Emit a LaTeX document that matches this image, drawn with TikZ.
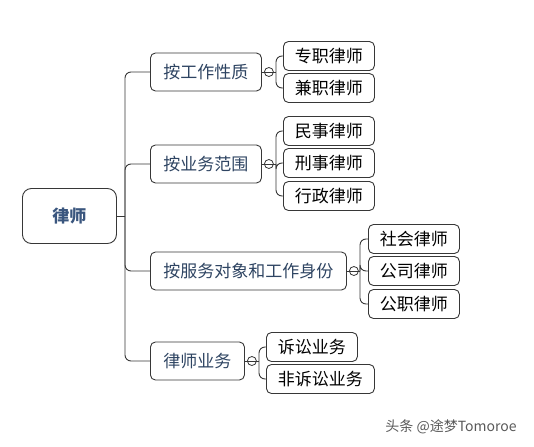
\documentclass[tikz,border=0pt]{standalone}
\usepackage{fontspec}
\newfontfamily\cjk{Noto Sans CJK SC}
\usepackage{xcolor}
\definecolor{branchblue}{RGB}{46,68,98}
\definecolor{rootblue}{RGB}{58,86,126}
\definecolor{linegray}{RGB}{55,55,55}
\usetikzlibrary{positioning}
\tikzset{%
    box/.style={draw=linegray, rounded corners=5pt, line width=0.9pt, fill=white,
        inner sep=0pt, anchor=west, font=\cjk\fontsize{17}{17}\selectfont},
    rootbox/.style={box, rounded corners=9pt, minimum width=94pt, minimum height=55pt,
        text=rootblue, font=\cjk\bfseries\fontsize{17}{17}\selectfont},
    branch/.style={box, minimum height=38pt, text=branchblue},
    leaf/.style={box, minimum height=29pt, minimum width=91pt, text=black},
    collapse/.style={draw=linegray, circle, minimum size=9pt, inner sep=0pt, line width=0.8pt},
    link/.style={draw=linegray, line width=0.9pt, rounded corners=6pt}
}

\begin{document}
\begin{tikzpicture}[x=1pt,y=-1pt]
\useasboundingbox (0,0) rectangle (534,446);
% hubs
\coordinate (trunk) at (125,216);
\coordinate (h1) at (276,72);
\coordinate (h2) at (276,164);
\coordinate (h3) at (360,271);
\coordinate (h4) at (259,361);
% nodes
\node[rootbox] (lawyer) at (22,216) {律师};
\node[branch, minimum width=111pt] (nature) at (150,72) {按工作性质};
\node[branch, minimum width=111pt] (scope) at (150,164) {按业务范围};
\node[branch, minimum width=196pt] (client) at (150,271) {按服务对象和工作身份};
\node[branch, minimum width=94pt] (work) at (150,361) {律师业务};
\node[leaf] (fulltime) at (283,56) {专职律师};
\node[leaf] (parttime) at (283,88) {兼职律师};
\node[leaf] (civil) at (283,131) {民事律师};
\node[leaf] (criminal) at (283,163) {刑事律师};
\node[leaf] (admin) at (283,196) {行政律师};
\node[leaf] (social) at (368,239) {社会律师};
\node[leaf] (company) at (368,271) {公司律师};
\node[leaf] (public) at (368,304) {公职律师};
\node[leaf] (litig) at (266,347) {诉讼业务};
\node[leaf, minimum width=108pt] (nonlitig) at (266,379) {非诉讼业务};
% trunk
\draw[link] (lawyer.east) -- (trunk);
\draw[link] (trunk) |- (nature.west);
\draw[link] (trunk) |- (scope.west);
\draw[link] (trunk) |- (client.west);
\draw[link] (trunk) |- (work.west);
% leaves
\draw[link] (nature.east) -- (h1);
\draw[link] (h1) |- (fulltime.west);
\draw[link] (h1) |- (parttime.west);
\draw[link] (scope.east) -- (h2);
\draw[link] (h2) |- (civil.west);
\draw[link] (h2) |- (criminal.west);
\draw[link] (h2) |- (admin.west);
\draw[link] (client.east) -- (h3);
\draw[link] (h3) |- (social.west);
\draw[link] (h3) |- (company.west);
\draw[link] (h3) |- (public.west);
\draw[link] (work.east) -- (h4);
\draw[link] (h4) |- (litig.west);
\draw[link] (h4) |- (nonlitig.west);
\node[collapse] (c1) at ([xshift=7pt]nature.east) {};
\node[collapse] (c2) at ([xshift=7pt]scope.east) {};
\node[collapse] (c3) at ([xshift=7pt]client.east) {};
\node[collapse] (c4) at ([xshift=7pt]work.east) {};
\node[text=black!65, font=\cjk\fontsize{14}{14}\selectfont] (mark) at (451,427) {头条 @途梦Tomoroe};
\end{tikzpicture}
\end{document}
